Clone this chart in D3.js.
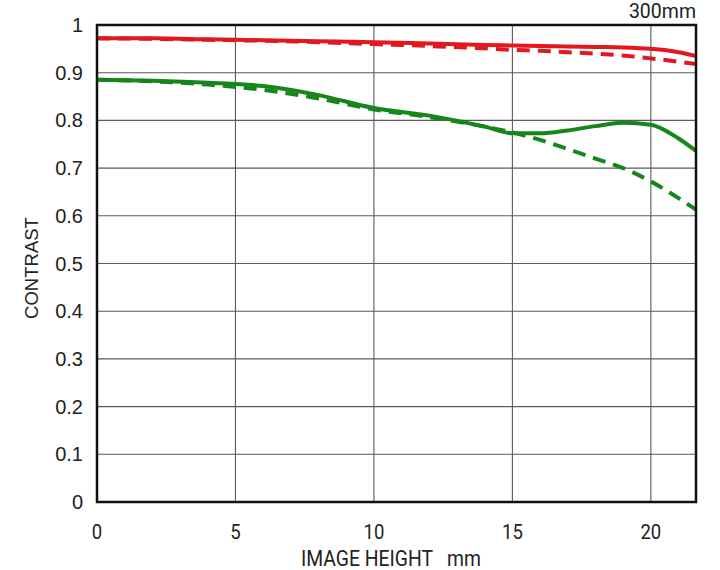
<!DOCTYPE html>
<html>
<head>
    <meta charset="utf-8">
    <title>MTF 300mm</title>
    <script src="https://cdn.jsdelivr.net/npm/d3@7"></script>
    <style>
        body { margin: 0; background: #fff; }
    </style>
</head>
<body>
<script>
        // image height positions (mm)
        var heights = [0, 2, 4, 6, 8, 10, 12, 14, 15, 16, 17, 18, 19, 20, 21, 21.63];

        // contrast values
        var redSolid   = [0.972, 0.972, 0.970, 0.968, 0.966, 0.964, 0.961, 0.958, 0.957, 0.956, 0.955, 0.954, 0.953, 0.950, 0.943, 0.935];
        var redDashed  = [0.972, 0.971, 0.969, 0.967, 0.964, 0.960, 0.956, 0.951, 0.948, 0.946, 0.943, 0.940, 0.936, 0.930, 0.923, 0.918];
        var greenSolid = [0.885, 0.883, 0.879, 0.872, 0.853, 0.826, 0.810, 0.787, 0.773, 0.773, 0.779, 0.788, 0.795, 0.791, 0.762, 0.736];
        var greenDashed= [0.885, 0.882, 0.875, 0.864, 0.846, 0.823, 0.807, 0.787, 0.775, 0.759, 0.740, 0.720, 0.700, 0.672, 0.637, 0.613];

        var xTicks = [0, 5, 10, 15, 20];
        var yTicks = [0, 0.1, 0.2, 0.3, 0.4, 0.5, 0.6, 0.7, 0.8, 0.9, 1];

        var series = [
            { values: redSolid,    color: "#e3181f", dash: null },
            { values: redDashed,   color: "#e3181f", dash: "13,8" },
            { values: greenSolid,  color: "#17861a", dash: null },
            { values: greenDashed, color: "#17861a", dash: "13,8" }
        ];

        var plotL = 97, plotR = 696, plotT = 25, plotB = 502;
        var narrow = "Roboto, Liberation Sans, sans-serif";
        var arial = "Liberation Sans, Arial, sans-serif";

        var svg = d3.select("body").append("svg")
            .attr("width", 720)
            .attr("height", 570);

        var x = d3.scaleLinear().domain([0, 21.63]).range([plotL, plotR]);
        var y = d3.scaleLinear().domain([0, 1]).range([plotB, plotT]);

        // grid
        svg.append("g").selectAll("line").data(xTicks.slice(1)).enter().append("line")
            .attr("x1", function(d) { return x(d); })
            .attr("x2", function(d) { return x(d); })
            .attr("y1", plotT).attr("y2", plotB)
            .attr("stroke", "#5a5a5a").attr("stroke-width", 1.1);

        svg.append("g").selectAll("line").data(yTicks.slice(1, -1)).enter().append("line")
            .attr("y1", function(d) { return y(d); })
            .attr("y2", function(d) { return y(d); })
            .attr("x1", plotL).attr("x2", plotR)
            .attr("stroke", "#5a5a5a").attr("stroke-width", 1.1);

        // curves
        var line = d3.line()
            .x(function(d, i) { return x(heights[i]); })
            .y(function(d) { return y(d); })
            .curve(d3.curveMonotoneX);

        svg.append("defs").append("clipPath").attr("id", "plot")
            .append("rect").attr("x", plotL).attr("y", plotT)
            .attr("width", plotR - plotL).attr("height", plotB - plotT);

        svg.append("g").attr("clip-path", "url(#plot)")
            .selectAll("path").data(series).enter().append("path")
            .attr("d", function(d) { return line(d.values); })
            .attr("fill", "none")
            .attr("stroke", function(d) { return d.color; })
            .attr("stroke-width", 4)
            .attr("stroke-dasharray", function(d) { return d.dash; });

        // frame
        svg.append("rect")
            .attr("x", plotL).attr("y", plotT)
            .attr("width", plotR - plotL).attr("height", plotB - plotT)
            .attr("fill", "none").attr("stroke", "#111").attr("stroke-width", 2.5);

        // tick labels
        svg.append("g").selectAll("text").data(yTicks).enter().append("text")
            .attr("x", 83)
            .attr("y", function(d) { return y(d) + 7; })
            .attr("text-anchor", "end")
            .attr("font-family", arial)
            .attr("font-size", 20)
            .attr("fill", "#222")
            .text(function(d) { return d === 0 || d === 1 ? d : d.toFixed(1); });

        svg.append("g").selectAll("text").data(xTicks).enter().append("text")
            .attr("transform", function(d) { return "translate(" + x(d) + ",539) scale(0.95,1)"; })
            .attr("text-anchor", "middle")
            .attr("font-family", narrow)
            .attr("font-size", 19.5)
            .attr("fill", "#222")
            .text(function(d) { return d; });

        // titles
        svg.append("text")
            .attr("transform", "translate(38,268) rotate(-90)")
            .attr("text-anchor", "middle")
            .attr("font-family", arial)
            .attr("font-size", 18.5)
            .attr("fill", "#222")
            .text("CONTRAST");

        svg.append("text")
            .attr("transform", "translate(391,566) scale(0.9,1)")
            .attr("text-anchor", "middle")
            .attr("font-family", narrow)
            .attr("font-size", 21.5)
            .attr("fill", "#222")
            .attr("xml:space", "preserve")
            .text("IMAGE HEIGHT   mm");

        svg.append("text")
            .attr("x", 696).attr("y", 18)
            .attr("text-anchor", "end")
            .attr("font-family", narrow)
            .attr("font-size", 19.5)
            .attr("fill", "#222")
            .text("300mm");
</script>
</body>
</html>
